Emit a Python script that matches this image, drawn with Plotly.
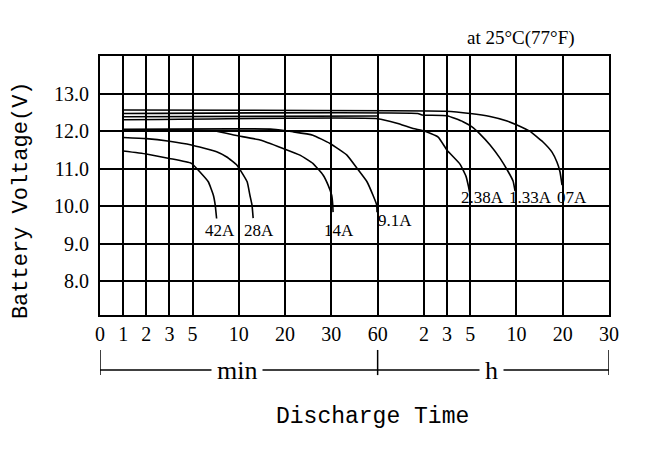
import numpy as np
import plotly.graph_objects as go

# ---- axis scale (discharge time in minutes -> grid position) ----
tick_minutes = [0, 1, 2, 3, 5, 10, 20, 30, 60, 120, 180, 300, 600, 1200, 1800]
tick_labels = ["0", "1", "2", "3", "5", "10", "20", "30", "60", "2", "3", "5", "10", "20", "30"]
tick_grid = [0, 0.5, 1, 1.5, 2, 3, 4, 5, 6, 7, 7.5, 8, 9, 10, 11]

volt_ticks = [8, 9, 10, 11, 12, 13]
volt_labels = ["8.0", "9.0", "10.0", "11.0", "12.0", "13.0"]

# ---- data (time in minutes, voltage in V) ----
t_42A = [1, 2, 3, 4.9, 5.8, 6.7, 7.25, 7.45, 7.6]
v_42A = [11.47, 11.39, 11.27, 11.14, 10.91, 10.65, 10.29, 10.03, 9.67]

t_28A = [1, 2, 3, 4.9, 7.6, 8.7, 9.8, 11.8, 12.4, 12.85, 13.1]
v_28A = [11.83, 11.80, 11.73, 11.63, 11.45, 11.31, 11.09, 10.65, 10.29, 10.03, 9.68]

t_14A = [1, 5, 7.4, 9.8, 14.6, 19.5, 23.2, 26, 28.2, 29.3, 30.2, 30.9, 31.1]
v_14A = [12.02, 12.02, 12.0, 11.88, 11.76, 11.54, 11.36, 11.14, 10.83, 10.56, 10.29, 10.03, 9.84]

t_9A = [1, 17.4, 21.7, 26, 29.7, 40.1, 46.6, 53.1, 57, 59.4, 59.6]
v_9A = [12.05, 12.05, 11.98, 11.89, 11.67, 11.36, 11.01, 10.65, 10.29, 10.03, 9.84]

t_238A = [1, 60, 85, 106, 121, 157, 180, 247, 278, 291, 297]
v_238A = [12.30, 12.33, 12.21, 12.07, 12.0, 11.84, 11.49, 11.12, 10.80, 10.53, 10.37]

t_133A = [1, 112, 117.5, 180, 263, 312, 364, 429, 493, 545, 578, 591]
v_133A = [12.47, 12.47, 12.43, 12.41, 12.25, 12.11, 11.92, 11.63, 11.28, 10.93, 10.67, 10.40]

t_07A = [1, 177, 300, 429, 539, 607, 776, 944, 1061, 1126, 1165, 1191]
v_07A = [12.56, 12.53, 12.47, 12.39, 12.27, 12.16, 11.99, 11.71, 11.44, 11.17, 10.91, 10.56]

t_extra = [1, 60]
v_extra = [12.38, 12.40]

series = [
    ("42A", t_42A, v_42A),
    ("28A", t_28A, v_28A),
    ("14A", t_14A, v_14A),
    ("9.1A", t_9A, v_9A),
    ("2.38A", t_238A, v_238A),
    ("1.33A", t_133A, v_133A),
    ("07A", t_07A, v_07A),
    ("", t_extra, v_extra),
]


def to_grid(t):
    return np.interp(np.asarray(t, dtype=float), tick_minutes, tick_grid)


SERIF = "Liberation Serif"
MONO = "Liberation Mono"

fig = go.Figure()
for name, t, v in series:
    fig.add_trace(go.Scatter(
        x=to_grid(t), y=v, mode="lines", name=name,
        line=dict(color="black", width=1.6, shape="spline", smoothing=0.4),
        showlegend=False, hoverinfo="skip",
    ))

# curve labels below each curve's end
label_cfg = {
    "42A": (3, 9.36), "28A": (6, 9.36), "14A": (6, 9.36), "9.1A": (18, 9.63),
    "2.38A": (13, 10.24), "1.33A": (15, 10.24), "07A": (10, 10.24),
}
for name, t, v in series:
    if name in label_cfg:
        dx, ly = label_cfg[name]
        fig.add_annotation(x=float(to_grid([t[-1]])[0]), y=ly, text=name, showarrow=False,
                           xanchor="center", yanchor="middle", xshift=dx,
                           font=dict(family=SERIF, size=17, color="black"))

# min / h brackets
yb = -0.2124
for x0, x1 in [(0, 6), (6, 11)]:
    fig.add_shape(type="line", xref="x", yref="paper", x0=x0, x1=x1, y0=yb, y1=yb,
                  line=dict(color="black", width=1.5))
for xv in [0, 6, 11]:
    fig.add_shape(type="line", xref="x", yref="paper", x0=xv, x1=xv, y0=-0.135, y1=-0.232,
                  line=dict(color="black", width=1.5))
fig.add_annotation(x=2.96, y=yb, xref="x", yref="paper", text="min", showarrow=False,
                   bgcolor="white", borderpad=5, yanchor="middle",
                   font=dict(family=SERIF, size=26, color="black"))
fig.add_annotation(x=8.47, y=yb, xref="x", yref="paper", text="h", showarrow=False,
                   bgcolor="white", borderpad=5, yanchor="middle",
                   font=dict(family=SERIF, size=26, color="black"))

fig.add_annotation(x=0.536, y=-0.394, xref="paper", yref="paper", text="Discharge Time",
                   showarrow=False, yanchor="middle", xanchor="center",
                   font=dict(family=MONO, size=23, color="black"))
fig.add_annotation(x=-0.155, y=0.444, xref="paper", yref="paper", text="Battery Voltage(V)",
                   showarrow=False, textangle=-90, yanchor="middle", xanchor="center",
                   font=dict(family=MONO, size=22, color="black"))
fig.add_annotation(x=0.827, y=1.0695, xref="paper", yref="paper", text="at 25°C(77°F)",
                   showarrow=False, yanchor="middle", xanchor="center",
                   font=dict(family=SERIF, size=19, color="black"))

axis_common = dict(showgrid=True, gridcolor="black", gridwidth=2, showline=True, mirror=True,
                   linecolor="black", linewidth=2, zeroline=False, ticks="outside",
                   tickcolor="rgba(0,0,0,0)", tickfont=dict(family=SERIF, size=20, color="black"))

# page body has an 8px default margin, so margins are shifted to compensate
fig.update_layout(
    width=656, height=455,
    margin=dict(l=92, r=55, t=48, b=148),
    paper_bgcolor="white", plot_bgcolor="white",
    xaxis=dict(range=[0, 11], tickvals=tick_grid, ticktext=tick_labels, ticklen=0, **axis_common),
    yaxis=dict(range=[7.1, 14.0], tickvals=volt_ticks, ticktext=volt_labels, ticklen=5, **axis_common),
)

fig.write_html("out.html")
